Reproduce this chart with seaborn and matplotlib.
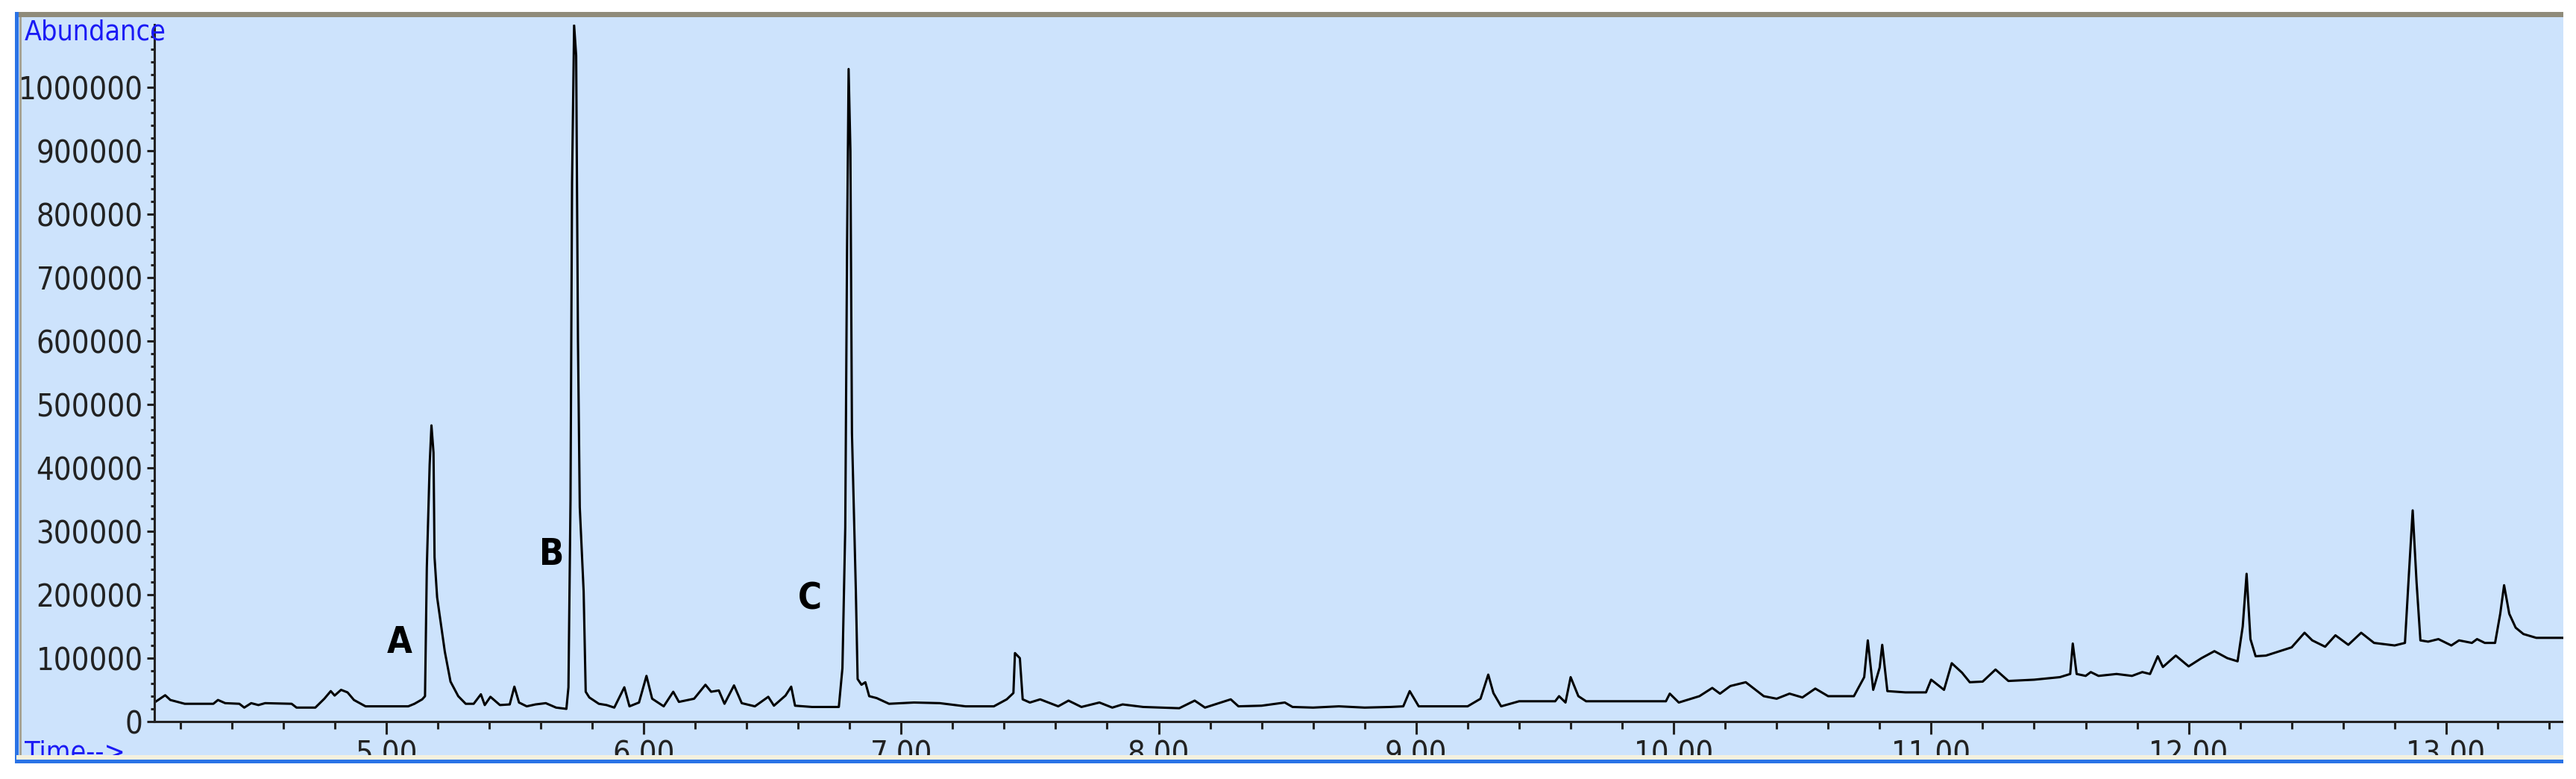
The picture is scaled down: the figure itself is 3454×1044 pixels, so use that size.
import matplotlib
matplotlib.use("Agg")
import matplotlib.pyplot as plt
import matplotlib.ticker as mticker
from matplotlib.patches import Rectangle
from matplotlib import font_manager
import pandas as pd
import seaborn as sns

### Data ###
time_min = [
    4.100, 4.142, 4.162, 4.218, 4.329, 4.347, 4.375, 4.430, 4.449, 4.476, 4.504, 4.530,
    4.633, 4.652, 4.725, 4.760, 4.785, 4.800, 4.825, 4.850, 4.875, 4.920, 5.086, 5.110,
    5.140, 5.151, 5.158, 5.169, 5.176, 5.184, 5.188, 5.198, 5.213, 5.228, 5.250, 5.280,
    5.309, 5.340, 5.368, 5.383, 5.405, 5.442, 5.480, 5.498, 5.516, 5.546, 5.580, 5.620,
    5.660, 5.700, 5.708, 5.716, 5.722, 5.730, 5.738, 5.745, 5.752, 5.767, 5.775, 5.789,
    5.826, 5.856, 5.886, 5.925, 5.945, 5.982, 6.011, 6.033, 6.078, 6.115, 6.137, 6.196,
    6.240, 6.262, 6.292, 6.314, 6.351, 6.381, 6.432, 6.484, 6.506, 6.551, 6.573, 6.588,
    6.654, 6.758, 6.772, 6.783, 6.790, 6.796, 6.803, 6.809, 6.824, 6.831, 6.846, 6.861,
    6.876, 6.905, 6.953, 7.050, 7.150, 7.250, 7.360, 7.410, 7.436, 7.442, 7.461, 7.472,
    7.500, 7.540, 7.610, 7.650, 7.700, 7.770, 7.820, 7.860, 7.940, 8.080, 8.140, 8.180,
    8.280, 8.310, 8.400, 8.490, 8.520, 8.600, 8.700, 8.800, 8.900, 8.950, 8.975, 9.010,
    9.200, 9.250, 9.280, 9.300, 9.330, 9.400, 9.540, 9.555, 9.580, 9.600, 9.630, 9.660,
    9.970, 9.985, 10.020, 10.100, 10.150, 10.180, 10.220, 10.280, 10.350, 10.400, 10.450,
    10.500, 10.550, 10.600, 10.700, 10.740, 10.754, 10.775, 10.800, 10.810, 10.830,
    10.900, 10.980, 11.000, 11.050, 11.080, 11.120, 11.150, 11.200, 11.250, 11.300,
    11.400, 11.500, 11.540, 11.550, 11.565, 11.600, 11.620, 11.650, 11.720, 11.780,
    11.820, 11.850, 11.880,
    11.900, 11.950, 12.000, 12.050, 12.100, 12.150, 12.190, 12.210, 12.225, 12.240,
    12.260, 12.300, 12.400, 12.450, 12.480, 12.530, 12.570, 12.620, 12.670, 12.720,
    12.800, 12.840, 12.855, 12.870, 12.885, 12.900, 12.930, 12.970, 13.000, 13.020,
    13.050, 13.100, 13.120, 13.150, 13.190, 13.210,
    13.225, 13.245, 13.270, 13.300, 13.350, 13.455,
]
abundance = [
    30000, 41500, 34000, 28000, 28000, 34000, 29000, 28000, 22000, 29000, 26000, 29000,
    28000, 22000, 22000, 36000, 48000, 41000, 50000, 46000, 34000, 24000, 24000, 28000,
    35000, 40000, 243000, 405000, 467000, 424000, 259000, 196000, 153000, 110000, 63000, 40000,
    28000, 28000, 43000, 26000, 39000, 26000, 27000, 55000, 30000, 24000, 27000, 29000,
    22000, 20000, 54000, 349000, 850000, 1098000, 1050000, 600000, 338000, 205000, 47000, 38000,
    28000, 26000, 22000, 54000, 24000, 30000, 72000, 36000, 24000, 47000, 31000, 36000,
    58000, 47000, 49000, 28000, 57000, 29000, 24000, 39000, 25000, 41000, 55000, 25000,
    23000, 23000, 84000, 306000, 750000, 1029000, 900000, 455000, 208000, 67000, 58000, 62000,
    40000, 37000, 28000, 30000, 29000, 24000, 24000, 35000, 45000, 108000, 100000, 35000,
    30000, 35000, 24000, 33000, 23000, 30000, 22000, 27000, 23000, 21000, 33000, 22000,
    35000, 24000, 25000, 30000, 23000, 22000, 24000, 22000, 23000, 24000, 48000, 24000,
    24000, 36000, 74000, 45000, 24000, 32000, 32000, 40000, 30000, 70000, 40000, 32000,
    32000, 44000, 30000, 40000, 53000, 44000, 56000, 62000, 40000, 36000, 44000,
    38000, 52000, 40000, 40000, 70000, 128000, 50000, 85000, 121000, 48000,
    46000, 46000, 66000, 50000, 92000, 77000, 62000, 63000, 82000, 64000,
    66000, 70000, 75000, 123000, 75000, 72000, 78000, 72000, 75000, 72000,
    78000, 75000, 103000,
    86000, 104000, 87000, 100000, 111000, 100000, 95000, 150000, 233000, 130000,
    103000, 104000, 117000, 140000, 128000, 118000, 136000, 121000, 140000, 124000,
    120000, 124000, 230000, 333000, 220000, 128000, 126000, 130000, 124000, 120000,
    128000, 124000, 130000, 124000, 124000, 170000,
    215000, 170000, 148000, 138000, 132000, 132000,
]

peak_names = ["A", "B", "C"]
peak_label_time = [5.053, 5.644, 6.646]
peak_label_abund = [125000, 263000, 194000]

x_major = [5, 6, 7, 8, 9, 10, 11, 12, 13]
y_major = list(range(0, 1000001, 100000))

W, H = 3455, 1044
panel_blue = "#cde3fc"
frame_blue = "#2a73e6"
ink = "#222222"

sns.set_style("ticks")
plt.rcParams["font.family"] = ["DejaVu Sans"]


def is_narrow(f):
    st = f.stretch
    if isinstance(st, str):
        narrow_st = "condensed" in st
    else:
        narrow_st = st < 500
    return narrow_st or "Narrow" in f.name or "Condensed" in f.name


narrow_fonts = [f for f in font_manager.fontManager.ttflist if is_narrow(f)]
if narrow_fonts:
    pick = narrow_fonts[0]
    font_kw = {"family": pick.name, "stretch": pick.stretch}
    tick_size, label_size, peak_size = 30, 27, 35
else:
    font_kw = {"family": "DejaVu Sans"}
    tick_size, label_size, peak_size = 22, 21, 28

df = pd.DataFrame({"time": time_min, "abundance": abundance})

fig = plt.figure(figsize=(W / 100, H / 100), dpi=100, facecolor="white")


def px_rect(x0, y0, x1, y1, color, z):
    fig.add_artist(Rectangle((x0 / W, 1 - y1 / H), (x1 - x0) / W, (y1 - y0) / H,
                             transform=fig.transFigure, facecolor=color,
                             edgecolor="none", zorder=z))


# window background
px_rect(22, 16, 3437, 1023, panel_blue, -1)

ax = fig.add_axes([207 / W, 1 - 967 / H, (3437 - 207) / W, (967 - 33) / H])
ax.set_facecolor("none")

sns.lineplot(data=df, x="time", y="abundance", ax=ax, color="black",
             linewidth=2.2, sort=False, estimator=None)

ax.set_xlim(4.10, 13.455)
ax.set_ylim(0, 1.099e6)
ax.set_xlabel("")
ax.set_ylabel("")

ax.xaxis.set_major_locator(mticker.FixedLocator(x_major))
ax.xaxis.set_minor_locator(mticker.MultipleLocator(0.2))
ax.xaxis.set_major_formatter(mticker.FuncFormatter(lambda v, p: f"{v:.2f}"))
ax.yaxis.set_major_locator(mticker.FixedLocator(y_major))
ax.yaxis.set_minor_locator(mticker.MultipleLocator(20000))
ax.yaxis.set_major_formatter(mticker.FuncFormatter(lambda v, p: f"{int(v)}"))

for side in ["top", "right"]:
    ax.spines[side].set_visible(False)
for side in ["left", "bottom"]:
    ax.spines[side].set_linewidth(2.2)
    ax.spines[side].set_color(ink)

ax.tick_params(axis="x", which="major", length=12, width=2.2, pad=5, colors=ink)
ax.tick_params(axis="x", which="minor", length=7, width=2.2, colors=ink)
ax.tick_params(axis="y", which="major", length=7, width=2.2, pad=4, colors=ink)
ax.tick_params(axis="y", which="minor", length=3.5, width=2.2, colors=ink)
for lab in ax.get_xticklabels() + ax.get_yticklabels():
    lab.set_fontsize(tick_size)
    lab.set_fontfamily(font_kw["family"])
    if "stretch" in font_kw:
        lab.set_fontstretch(font_kw["stretch"])

for name, t, a in zip(peak_names, peak_label_time, peak_label_abund):
    ax.text(t, a, name, fontsize=peak_size, fontweight="bold", color="black",
            ha="center", va="center", **font_kw)

fig.text(33 / W, 1 - 43 / H, "Abundance", fontsize=label_size, color="#1a1af5",
         ha="left", va="center", **font_kw)
fig.text(33 / W, 1 - 992 / H, "Time-->", fontsize=label_size, color="#1a1af5",
         ha="left", va="top", **font_kw)

# window frame drawn over the chart
px_rect(22, 16, 3437, 23, "#8f8b7a", 10)
px_rect(26, 23, 29, 1012, "#a8a493", 10)
px_rect(20, 16, 25, 1023, frame_blue, 10)
px_rect(22, 1012, 3437, 1018, "#f4f1df", 10)
px_rect(20, 1018, 3437, 1023, frame_blue, 10)
px_rect(0, 1023, W, H, "white", 9)
px_rect(3437, 0, W, H, "white", 9)

fig.savefig("out.png", dpi=100, facecolor="white")
